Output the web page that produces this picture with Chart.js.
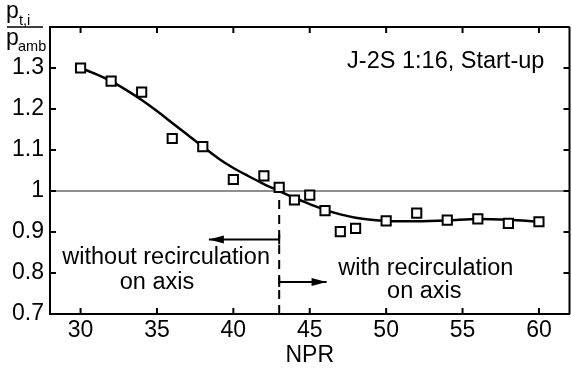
<!DOCTYPE html>
<html><head><meta charset="utf-8">
<script src="https://cdn.jsdelivr.net/npm/chart.js@4"></script>
<style>html,body{margin:0;padding:0;overflow:hidden;background:#fff}
#wrap{width:578px;height:369px;position:relative}</style>
</head><body><div id="wrap"><canvas id="c" width="578" height="369"></canvas></div>
<script>
// measured data points (NPR vs p_t,i / p_amb)
const npr = [30,32,34,36,38,40,42,43,44,45,46,47,48,50,52,54,56,58,60];
const ptRatio = [1.300,1.268,1.241,1.128,1.108,1.028,1.037,1.009,0.978,0.990,0.952,0.901,0.909,0.927,0.946,0.929,0.932,0.921,0.925];
// fitted curve
const fitNpr = [30,31,32,33,34,35,36,37,38,39,40,41,42,43,44,45,46,47,48,49,50,52,54,56,58,60];
const fitRatio = [1.300,1.285,1.268,1.246,1.222,1.195,1.166,1.137,1.108,1.080,1.056,1.036,1.017,1.000,0.983,0.968,0.954,0.943,0.935,0.930,0.927,0.926,0.928,0.932,0.930,0.925];
const xTicks = [30,35,40,45,50,55,60];
const xTickLabels = ['30','35','40','45','50','55','60'];
const yTicks = [0.7,0.8,0.9,1.0,1.1,1.2,1.3,1.4];
const yTickLabels = ['0.7','0.8','0.9','1','1.1','1.2','1.3',''];
const refLevel = 1.0;
const transitionNpr = 43;
const leftArrowEnd = 38.4, leftArrowY = 0.882;
const rightArrowEnd = 46.1, rightArrowY = 0.778;
const annotations = [
  {text:'without recirculation', x:35.6, y:0.837},
  {text:'on axis', x:35.0, y:0.778},
  {text:'with recirculation', x:52.6, y:0.810},
  {text:'on axis', x:52.5, y:0.754},
  {text:'J-2S 1:16, Start-up', x:53.9, y:1.315}
];
const FONT = '"Liberation Sans", Arial, sans-serif';

const decor = {
  id:'decor',
  afterDatasetsDraw(chart){
    const ctx = chart.ctx, xs = chart.scales.x, ys = chart.scales.y, a = chart.chartArea;
    ctx.save();
    ctx.strokeStyle = '#000'; ctx.lineWidth = 2;
    ctx.beginPath(); ctx.moveTo(a.left-1, a.top); ctx.lineTo(a.right, a.top); ctx.stroke();
    ctx.beginPath(); ctx.moveTo(a.right, a.top); ctx.lineTo(a.right, a.bottom); ctx.stroke();
    const tl = 6;
    xTicks.forEach(v=>{
      const p = xs.getPixelForValue(v);
      ctx.beginPath(); ctx.moveTo(p, a.bottom); ctx.lineTo(p, a.bottom-tl); ctx.stroke();
      ctx.beginPath(); ctx.moveTo(p, a.top); ctx.lineTo(p, a.top+tl); ctx.stroke();
    });
    yTicks.forEach(v=>{
      const p = ys.getPixelForValue(v);
      ctx.beginPath(); ctx.moveTo(a.left, p); ctx.lineTo(a.left+tl, p); ctx.stroke();
      ctx.beginPath(); ctx.moveTo(a.right, p); ctx.lineTo(a.right-tl, p); ctx.stroke();
    });
    const drawArrow = (x0, x1, yv) => {
      const px0 = xs.getPixelForValue(x0), px1 = xs.getPixelForValue(x1), py = ys.getPixelForValue(yv);
      const d = Math.sign(px1 - px0);
      ctx.lineWidth = 2;
      ctx.beginPath(); ctx.moveTo(px0, py-5); ctx.lineTo(px0, py+5); ctx.stroke();
      ctx.fillStyle = '#000';
      ctx.beginPath(); ctx.moveTo(px1, py); ctx.lineTo(px1 - d*15, py-4); ctx.lineTo(px1 - d*15, py+4); ctx.closePath(); ctx.fill();
    };
    drawArrow(transitionNpr, leftArrowEnd, leftArrowY);
    drawArrow(transitionNpr, rightArrowEnd, rightArrowY);
    ctx.fillStyle = '#000';
    ctx.font = '23.5px ' + FONT;
    ctx.textAlign = 'center'; ctx.textBaseline = 'middle';
    annotations.forEach(t=>{
      ctx.fillText(t.text, xs.getPixelForValue(t.x), ys.getPixelForValue(t.y));
    });
    ctx.textAlign = 'left'; ctx.textBaseline = 'alphabetic';
    ctx.font = '23px ' + FONT;
    ctx.fillText('p', 6, 18);
    ctx.fillText('p', 6, 45);
    ctx.font = '14.5px ' + FONT;
    ctx.fillText('t,i', 19, 25);
    ctx.fillText('amb', 18, 51);
    ctx.lineWidth = 1.5;
    ctx.beginPath(); ctx.moveTo(7, 27); ctx.lineTo(43, 27); ctx.stroke();
    ctx.restore();
  }
};

new Chart(document.getElementById('c'), {
  type:'scatter',
  data:{
    datasets:[
      {label:'measured', data:npr.map((x,i)=>({x, y:ptRatio[i]})), pointStyle:'rect', pointRadius:6.5, pointBorderWidth:2,
        pointBorderColor:'#000', pointBackgroundColor:'#fff', showLine:false, order:0},
      {label:'fit', data:fitNpr.map((x,i)=>({x, y:fitRatio[i]})), showLine:true, borderColor:'#000', borderWidth:2.5,
        pointRadius:0, cubicInterpolationMode:'monotone', order:1},
      {label:'ref', data:[{x:28,y:refLevel},{x:62,y:refLevel}], showLine:true, borderColor:'#6a6a6a', borderWidth:1.5, pointRadius:0, order:3},
      {label:'transition', data:[{x:transitionNpr,y:0.7},{x:transitionNpr,y:0.99}], showLine:true, borderColor:'#000', borderWidth:2,
        borderDash:[9,6], pointRadius:0, order:2},
      {label:'leftArrow', data:[{x:transitionNpr,y:leftArrowY},{x:leftArrowEnd,y:leftArrowY}], showLine:true, borderColor:'#000', borderWidth:2, pointRadius:0, order:2},
      {label:'rightArrow', data:[{x:transitionNpr,y:rightArrowY},{x:rightArrowEnd,y:rightArrowY}], showLine:true, borderColor:'#000', borderWidth:2, pointRadius:0, order:2}
    ]
  },
  options:{
    responsive:false, animation:false,
    layout:{padding:{top:27,right:4,left:0,bottom:0}},
    plugins:{legend:{display:false}, tooltip:{enabled:false}},
    scales:{
      x:{type:'linear', min:28, max:62,
        afterBuildTicks:s=>{s.ticks = xTicks.map(v=>({value:v}));},
        afterFit:s=>{s.height = 55;},
        ticks:{color:'#000', font:{family:FONT, size:23}, padding:3, maxRotation:0, autoSkip:false,
          callback:(v,i)=>xTickLabels[i]},
        grid:{display:false, drawTicks:false},
        border:{display:true, color:'#000', width:2},
        title:{display:true, text:'NPR', color:'#000', font:{family:FONT, size:23}, padding:{top:0,bottom:0}}
      },
      y:{type:'linear', min:0.7, max:1.4,
        afterBuildTicks:s=>{s.ticks = yTicks.map(v=>({value:v}));},
        afterFit:s=>{s.width = 50;},
        ticks:{color:'#000', font:{family:FONT, size:23}, padding:6, autoSkip:false,
          callback:(v,i)=>yTickLabels[i]},
        grid:{display:false, drawTicks:false},
        border:{display:true, color:'#000', width:2}
      }
    }
  },
  plugins:[decor]
});
</script></body></html>
